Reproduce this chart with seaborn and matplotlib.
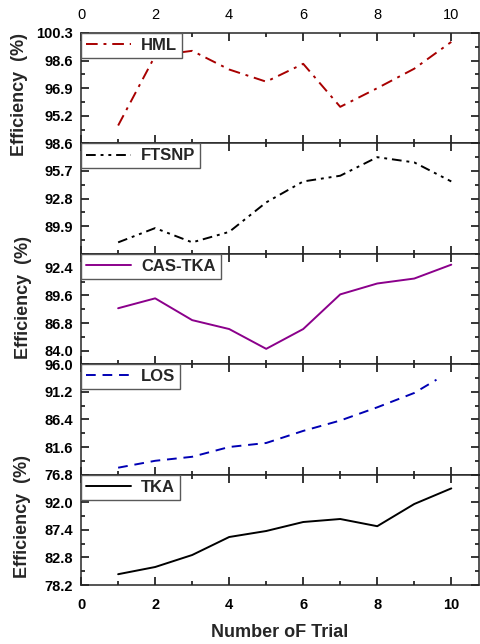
import numpy as np
import pandas as pd
import matplotlib
matplotlib.use("Agg")
import matplotlib.pyplot as plt
from matplotlib.ticker import FixedLocator, FixedFormatter, MultipleLocator
import seaborn as sns

# ---------------- data ----------------
trials = [1, 2, 3, 4, 5, 6, 7, 8, 9, 10]
trials_los = [1, 2, 3, 4, 5, 6, 7, 8, 9, 9.6]

hml = [94.6, 98.9, 99.2, 98.05, 97.3, 98.4, 95.75, 96.9, 98.1, 99.75]
ftsnp = [88.2, 89.7, 88.2, 89.3, 92.4, 94.6, 95.2, 97.15, 96.6, 94.6]
cas_tka = [88.3, 89.3, 87.1, 86.2, 84.2, 86.2, 89.7, 90.8, 91.3, 92.7]
los = [78.0, 79.2, 79.9, 81.6, 82.3, 84.4, 86.2, 88.5, 91.0, 93.3]
tka = [80.0, 81.2, 83.2, 86.2, 87.2, 88.7, 89.2, 88.0, 91.7, 94.3]

series_names = ["HML", "FTSNP", "CAS-TKA", "LOS", "TKA"]

ylims = [(93.5, 100.3), (87.0, 98.6), (82.65, 93.8), (76.8, 96.0), (78.2, 96.6)]
yticks = [
    [93.5, 95.2, 96.9, 98.6, 100.3],
    [87.0, 89.9, 92.8, 95.7, 98.6],
    [84.0, 86.8, 89.6, 92.4],
    [76.8, 81.6, 86.4, 91.2, 96.0],
    [78.2, 82.8, 87.4, 92.0, 96.6],
]
ytick_labels = [
    ["", "95.2", "96.9", "98.6", "100.3"],
    ["", "89.9", "92.8", "95.7", "98.6"],
    ["84.0", "86.8", "89.6", "92.4"],
    ["76.8", "81.6", "86.4", "91.2", "96.0"],
    ["78.2", "82.8", "87.4", "92.0", ""],
]
xticks = [0, 2, 4, 6, 8, 10]
xlabel = "Number oF Trial"
ylabel = "Efficiency  (%)"

# ---------------- style ----------------
sns.set_style("ticks")
plt.rcParams["font.family"] = ["Liberation Sans", "DejaVu Sans"]
plt.rcParams["axes.linewidth"] = 1.1

colors = ["#A80000", "#000000", "#8B008B", "#0000B4", "#000000"]
styles = [
    (0, (6, 3, 1.5, 3)),
    (0, (5, 2.5, 1.5, 2.5, 1.5, 2.5)),
    "-",
    (0, (5, 3.5)),
    "-",
]

fig, axes = plt.subplots(5, 1, sharex=True, figsize=(4.8, 6.44), dpi=100)
fig.subplots_adjust(left=0.169, right=0.998, top=0.9488, bottom=0.0916, hspace=0)

data_sets = [
    (trials, hml),
    (trials, ftsnp),
    (trials, cas_tka),
    (trials_los, los),
    (trials, tka),
]

for i, ax in enumerate(axes):
    xs, ys = data_sets[i]
    df = pd.DataFrame({"trial": xs, "eff": ys})
    sns.lineplot(data=df, x="trial", y="eff", ax=ax, color=colors[i],
                 linestyle=styles[i], linewidth=1.4, label=series_names[i],
                 sort=False)
    ax.set_xlim(0, 10.75)
    ax.set_ylim(*ylims[i])
    ax.yaxis.set_major_locator(FixedLocator(yticks[i]))
    ax.yaxis.set_major_formatter(FixedFormatter(ytick_labels[i]))
    step = yticks[i][1] - yticks[i][0]
    minors = [t + step / 2 for t in yticks[i]] + [yticks[i][0] - step / 2]
    ax.yaxis.set_minor_locator(FixedLocator(minors))
    ax.xaxis.set_major_locator(FixedLocator(xticks))
    ax.xaxis.set_minor_locator(MultipleLocator(1))
    ax.set_xlabel("")
    ax.set_ylabel("")
    ax.tick_params(which="both", direction="in", top=True, bottom=True,
                   left=True, right=True, width=1.1, colors="black")
    ax.tick_params(which="major", length=6)
    ax.tick_params(which="minor", length=3)
    for lab in ax.get_yticklabels():
        lab.set_fontweight("bold")
        lab.set_fontsize(10.5)
    ax.tick_params(axis="y", pad=6)
    leg = ax.legend(loc="upper left", bbox_to_anchor=(0, 1), borderaxespad=0,
                    frameon=True, fancybox=False, edgecolor="0.35",
                    framealpha=1, handlelength=2.7, handletextpad=0.6,
                    borderpad=0.3, prop={"weight": "bold", "size": 12})
    leg.get_frame().set_linewidth(1.0)

# top axis labels on first panel
axes[0].tick_params(axis="x", labeltop=True, labelbottom=False, labelsize=10.5,
                    pad=8)
for lab in axes[0].get_xticklabels():
    lab.set_fontweight("normal")
for ax in axes[1:4]:
    ax.tick_params(axis="x", labelbottom=False)
axes[4].tick_params(axis="x", labelbottom=True, labelsize=10.5, pad=9)
for lab in axes[4].get_xticklabels():
    lab.set_fontweight("bold")
axes[4].set_xlabel(xlabel, fontsize=13, fontweight="bold", labelpad=9)

# y labels
for yc, xc in [(94, 20), (298, 24), (516, 23)]:
    fig.text(xc / 480, 1 - yc / 644, ylabel, rotation=90, ha="center",
             va="center", fontsize=13, fontweight="bold")

fig.savefig("out.png", dpi=100)
